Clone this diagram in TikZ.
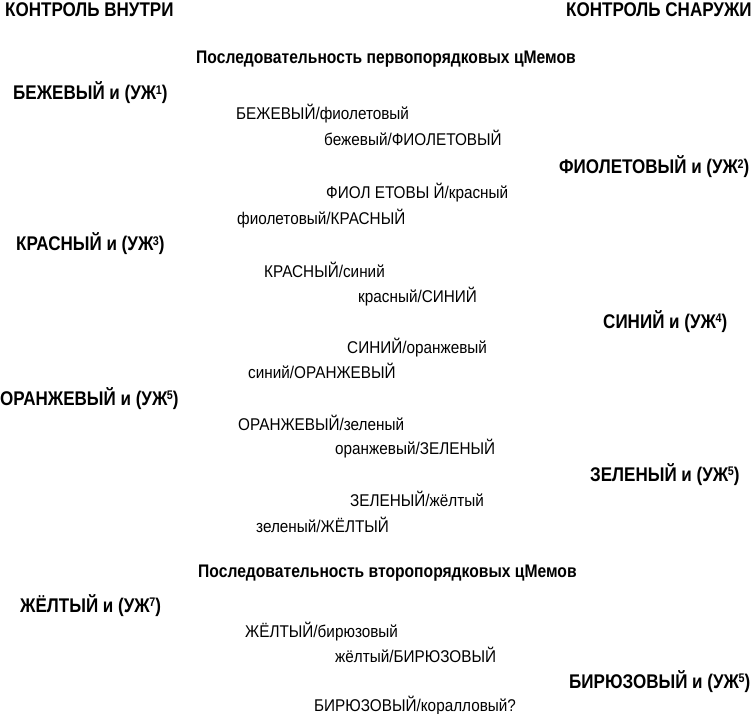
\documentclass[tikz,border=0pt]{standalone}
\usepackage{fontspec}
\setmainfont[FakeStretch=0.9]{Liberation Sans}
\newfontfamily\condbold[FakeStretch=0.86]{Liberation Sans Bold}
\newcommand\uzh[1]{(УЖ\kern-0.5pt\raisebox{0.55ex}{\fontsize{12.5}{12}\selectfont #1})}

\begin{document}
\begin{tikzpicture}[x=1pt,y=-1pt,
    every node/.style={inner sep=0pt,anchor=base west},
    top/.style={font=\condbold\fontsize{19.8}{22}\selectfont},
    side/.style={font=\condbold\fontsize{19.8}{22}\selectfont},
    seq/.style={font=\condbold\fontsize{18.2}{22}\selectfont},
    pair/.style={font=\fontsize{17}{20}\selectfont}]
      \useasboundingbox (0,0) rectangle (752,714);

      \node[top]  (in)   at (5,   17)  {КОНТРОЛЬ ВНУТРИ};
      \node[top]  (out)  at (566, 17)  {КОНТРОЛЬ СНАРУЖИ};
      \node[seq]  (seq1) at (196, 64)  {Последовательность первопорядковых цМемов};

      \node[side] (b)    at (13,  100) {БЕЖЕВЫЙ и \uzh{1}};
      \node[pair] (bf)   at (236, 120) {БЕЖЕВЫЙ/фиолетовый};
      \node[pair] (bF)   at (324, 146) {бежевый/ФИОЛЕТОВЫЙ};
      \node[side] (f)    at (559, 174) {ФИОЛЕТОВЫЙ и \uzh{2}};
      \node[pair] (fk)   at (326, 199) {ФИОЛ ЕТОВЫ Й/красный};
      \node[pair] (fK)   at (237, 224) {фиолетовый/КРАСНЫЙ};
      \node[side] (k)    at (16,  251) {КРАСНЫЙ и \uzh{3}};
      \node[pair] (ks)   at (264, 277) {КРАСНЫЙ/синий};
      \node[pair] (kS)   at (358, 302) {красный/СИНИЙ};
      \node[side] (s)    at (603, 328) {СИНИЙ и \uzh{4}};
      \node[pair] (so)   at (347, 353) {СИНИЙ/оранжевый};
      \node[pair] (sO)   at (248, 378) {синий/ОРАНЖЕВЫЙ};
      \node[side] (o)    at (0,   405) {ОРАНЖЕВЫЙ и \uzh{5}};
      \node[pair] (oz)   at (238, 430) {ОРАНЖЕВЫЙ/зеленый};
      \node[pair] (oZ)   at (335, 454) {оранжевый/ЗЕЛЕНЫЙ};
      \node[side] (z)    at (590, 481) {ЗЕЛЕНЫЙ и \uzh{5}};
      \node[pair] (zj)   at (350, 506) {ЗЕЛЕНЫЙ/жёлтый};
      \node[pair] (zJ)   at (256, 532) {зеленый/ЖЁЛТЫЙ};

      \node[seq]  (seq2) at (198, 577) {Последовательность второпорядковых цМемов};

      \node[side] (j)    at (20,  612) {ЖЁЛТЫЙ и \uzh{7}};
      \node[pair] (jb)   at (245, 637) {ЖЁЛТЫЙ/бирюзовый};
      \node[pair] (jB)   at (335, 662) {жёлтый/БИРЮЗОВЫЙ};
      \node[side] (bi)   at (569, 688) {БИРЮЗОВЫЙ и \uzh{5}};
      \node[pair] (bk)   at (314, 711) {БИРЮЗОВЫЙ/коралловый?};
    \end{tikzpicture}
\end{document}
